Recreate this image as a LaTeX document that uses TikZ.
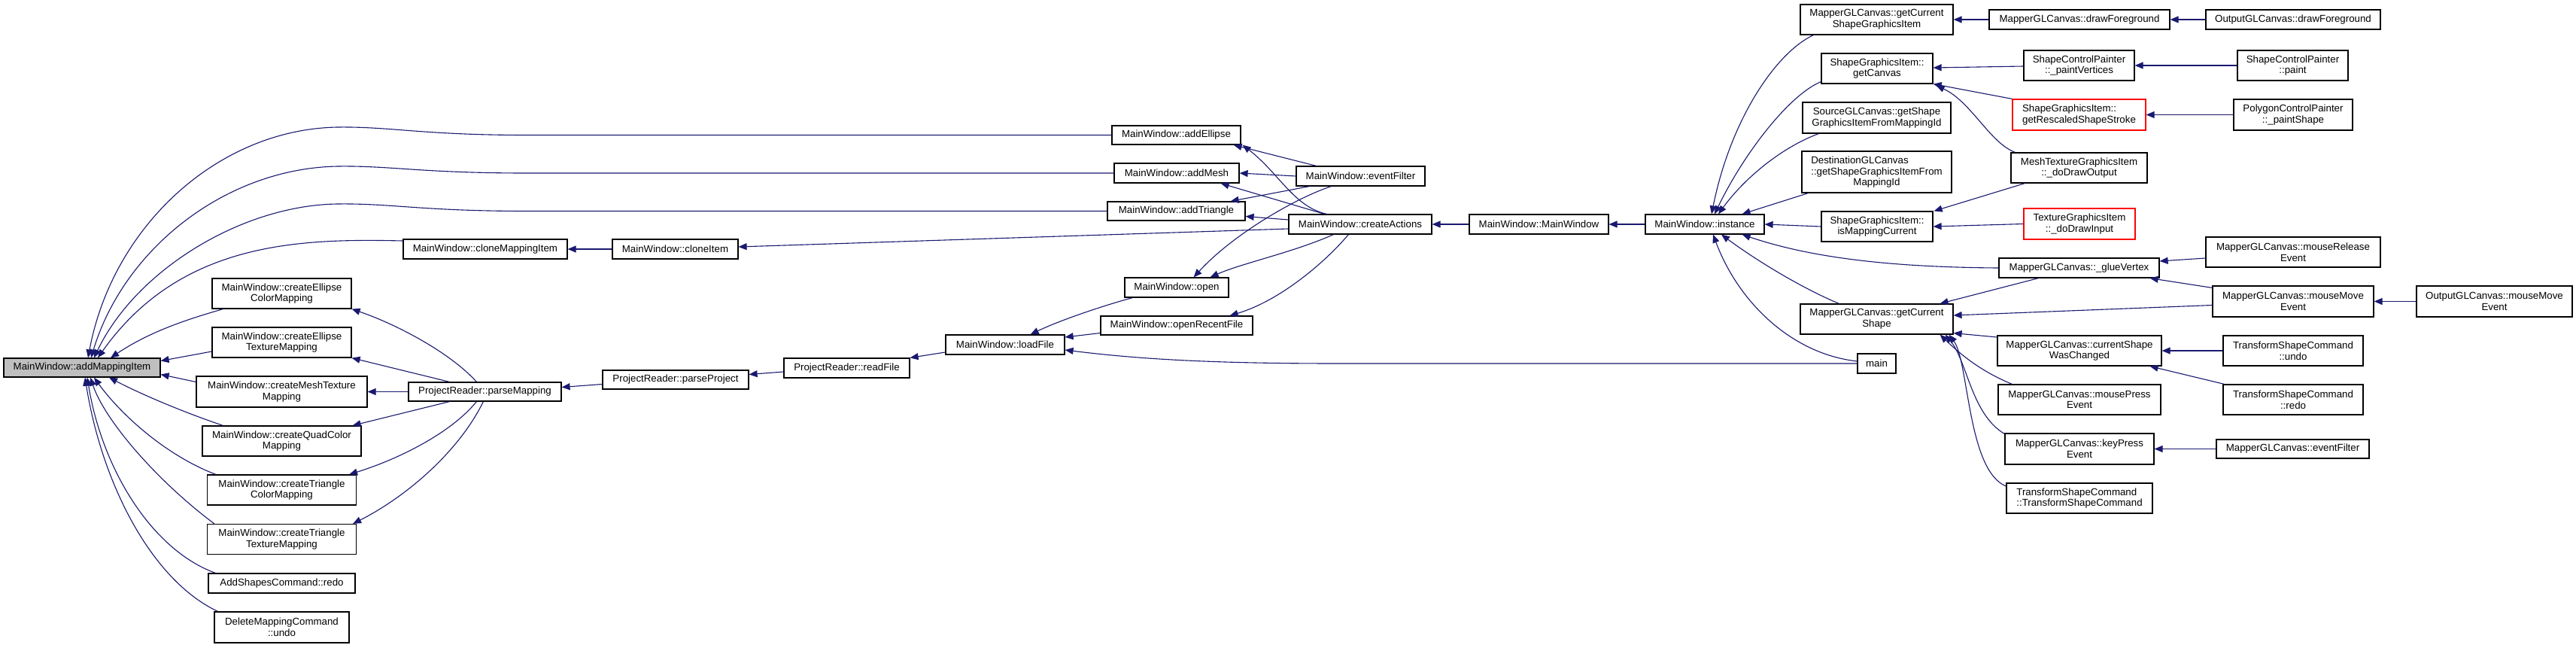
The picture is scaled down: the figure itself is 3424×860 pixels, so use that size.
\documentclass[tikz,border=0pt]{standalone}
\usepackage{fontspec}
\setmainfont{Liberation Sans}
\usetikzlibrary{arrows.meta,calc}
\definecolor{edgecol}{HTML}{191970}
\definecolor{nodegray}{HTML}{BFBFBF}
\newcommand{\dgfont}{\fontsize{13.3}{14.6}\selectfont}
\tikzset{
  box/.style={draw=black, fill=white, line width=1.2pt, inner sep=0pt, align=center, font=\dgfont},
  redbox/.style={draw=red},
  edge/.style={draw=edgecol, line width=1.1pt, -{Triangle[length=11pt,width=9pt]}},
}
\newcommand{\dnode}[6][]{\node[box,#1,minimum width=#4pt,minimum height=#5pt] (#2) at (#3) {#6};}
\begin{document}
\begin{tikzpicture}[x=1pt,y=-1pt]
\path[use as bounding box, fill=white] (0,0) rectangle (3424,860);
% column 0
\dnode[fill=nodegray]{ami}{109,488.5}{208}{25}{MainWindow::addMappingItem}
% column 1
\dnode{cecm}{374.5,390}{185}{40}{MainWindow::createEllipse\\ColorMapping}
\dnode{cetm}{374.5,455}{185}{40}{MainWindow::createEllipse\\TextureMapping}
\dnode{cmtm}{374.5,520.5}{227}{41}{MainWindow::createMeshTexture\\Mapping}
\dnode{cqcm}{374.5,586}{211}{40}{MainWindow::createQuadColor\\Mapping}
\dnode{ctcm}{374.5,651}{198}{40}{MainWindow::createTriangle\\ColorMapping}
\dnode{cttm}{374.5,716.5}{198}{40}{MainWindow::createTriangle\\TextureMapping}
\dnode{ascr}{374.5,775}{195}{26}{AddShapesCommand::redo}
\dnode{dmcu}{374.5,833.5}{179}{41}{DeleteMappingCommand\\::undo}
% column 2-5
\dnode{cmi}{645,331}{218}{26}{MainWindow::cloneMappingItem}
\dnode{pm}{644.5,520.5}{203}{25}{ProjectReader::parseMapping}
\dnode{ci}{897.5,331}{167}{26}{MainWindow::cloneItem}
\dnode{pp}{898,504.5}{194}{25}{ProjectReader::parseProject}
\dnode{rf}{1125.5,489}{167}{26}{ProjectReader::readFile}
\dnode{lf}{1336,458}{158}{26}{MainWindow::loadFile}
% column 6
\dnode{ae}{1563.5,179.5}{171}{25}{MainWindow::addEllipse}
\dnode{am}{1564,230}{166}{26}{MainWindow::addMesh}
\dnode{at}{1563.5,280.5}{183}{25}{MainWindow::addTriangle}
\dnode{op}{1564,382}{138}{26}{MainWindow::open}
\dnode{orf}{1564,432.5}{202}{25}{MainWindow::openRecentFile}
% column 7-9
\dnode{ef}{1808.5,234}{171}{26}{MainWindow::eventFilter}
\dnode{ca}{1808,298}{190}{26}{MainWindow::createActions}
\dnode{mwmw}{2045.5,298}{185}{26}{MainWindow::MainWindow}
\dnode{inst}{2266,298}{158}{26}{MainWindow::instance}
% column 10
\dnode{gcsgi}{2494.5,26}{203}{40}{MapperGLCanvas::getCurrent\\ShapeGraphicsItem}
\dnode{gc}{2495,91}{148}{40}{ShapeGraphicsItem::\\getCanvas}
\dnode{sgc}{2494.5,156.5}{197}{41}{SourceGLCanvas::getShape\\GraphicsItemFromMappingId}
\dnode{dgc}{2494.5,228.5}{199}{55}{\begin{tabular}[b]{@{}l@{}}DestinationGLCanvas\\::getShapeGraphicsItemFrom\end{tabular}\\MappingId}
\dnode{imc}{2495,301}{148}{40}{ShapeGraphicsItem::\\isMappingCurrent}
\dnode{gcs}{2494.5,424}{203}{40}{MapperGLCanvas::getCurrent\\Shape}
\dnode{main}{2494.5,483}{51}{26}{main}
% column 11
\dnode{mdf}{2764,26}{240}{26}{MapperGLCanvas::drawForeground}
\dnode{pv}{2763.5,87}{147}{40}{ShapeControlPainter\\::\_paintVertices}
\dnode[redbox,align=left]{grss}{2763.5,152.5}{177}{41}{ShapeGraphicsItem::\\getRescaledShapeStroke}
\dnode{mdo}{2763.5,223}{181}{40}{MeshTextureGraphicsItem\\::\_doDrawOutput}
\dnode[redbox]{tdi}{2764,297.5}{148}{41}{TextureGraphicsItem\\::\_doDrawInput}
\dnode{gv}{2763.5,356}{213}{26}{MapperGLCanvas::\_glueVertex}
\dnode{cswc}{2764,466}{218}{40}{MapperGLCanvas::currentShape\\WasChanged}
\dnode{mpe}{2764,531}{216}{40}{MapperGLCanvas::mousePress\\Event}
\dnode{kpe}{2764,596.5}{198}{41}{MapperGLCanvas::keyPress\\Event}
\dnode[align=left]{tsc}{2764,662}{194}{40}{TransformShapeCommand\\::TransformShapeCommand}
% column 12-13
\dnode{odf}{3048,26}{232}{26}{OutputGLCanvas::drawForeground}
\dnode{scp}{3047.5,87}{147}{40}{ShapeControlPainter\\::paint}
\dnode{pcp}{3048,152.5}{158}{41}{PolygonControlPainter\\::\_paintShape}
\dnode{mre}{3048,335}{232}{40}{MapperGLCanvas::mouseRelease\\Event}
\dnode{mme}{3048,400.5}{214}{41}{MapperGLCanvas::mouseMove\\Event}
\dnode{tsu}{3048,466}{186}{40}{TransformShapeCommand\\::undo}
\dnode{tsr}{3048,531}{186}{40}{TransformShapeCommand\\::redo}
\dnode{mef}{3047.5,596.5}{203}{25}{MapperGLCanvas::eventFilter}
\dnode{omme}{3315.5,400.5}{207}{41}{OutputGLCanvas::mouseMove\\Event}

% edges into addMappingItem
\draw[edge] (ae.west) -- (700,179.5) .. controls (560,179.5) and (520,168) .. (448,169) .. controls (290,172) and (150,300) .. ($(ami.north)+(8,0)$);
\draw[edge] (am.west) -- (700,230) .. controls (560,230) and (520,220) .. (448,221) .. controls (300,224) and (165,330) .. ($(ami.north)+(12,0)$);
\draw[edge] (at.west) -- (700,280.5) .. controls (560,280.5) and (520,270) .. (448,271) .. controls (320,273) and (180,360) .. ($(ami.north)+(16,0)$);
\draw[edge] ($(cmi.west)+(0,-11)$) .. controls (400,317) and (240,320) .. ($(ami.north)+(21,0)$);
\draw[edge] ($(cecm.south west)+(15,0)$) .. controls (250,424) and (200,440) .. ($(ami.north)+(38,0)$);
\draw[edge] ($(cetm.west)+(0,12)$) -- ($(ami.east)+(0,-9)$);
\draw[edge] ($(cmtm.west)+(0,-13)$) -- ($(ami.east)+(0,9)$);
\draw[edge] ($(cqcm.north west)+(28,0)$) .. controls (245,548) and (190,525) .. ($(ami.south)+(36,0)$);
\draw[edge] ($(ctcm.north west)+(12,0)$) .. controls (220,605) and (160,550) .. ($(ami.south)+(16,0)$);
\draw[edge] ($(cttm.north west)+(10,0)$) .. controls (210,640) and (140,560) .. ($(ami.south)+(11,0)$);
\draw[edge] ($(ascr.north west)+(10,0)$) .. controls (200,730) and (135,620) .. ($(ami.south)+(7,0)$);
\draw[edge] ($(dmcu.north west)+(5,0)$) .. controls (200,770) and (135,640) .. ($(ami.south)+(4,0)$);
% parseMapping
\draw[edge] ($(pm.north west)+(91,0)$) .. controls (600,470) and (530,432) .. (cecm.south east);
\draw[edge] ($(pm.north west)+(55,0)$) -- (cetm.south east);
\draw[edge] (pm.west) -- (cmtm.east);
\draw[edge] ($(pm.south west)+(55,0)$) -- ($(cqcm.north east)+(-12,0)$);
\draw[edge] ($(pm.south west)+(91,0)$) .. controls (600,575) and (530,610) .. ($(ctcm.north east)+(-10,0)$);
\draw[edge] ($(pm.south west)+(100,0)$) .. controls (610,600) and (540,660) .. ($(cttm.north east)+(-5,0)$);
\draw[edge] ($(pp.west)+(0,6)$) -- ($(pm.east)+(0,-6)$);
\draw[edge] ($(rf.west)+(0,5)$) -- ($(pp.east)+(0,-7)$);
\draw[edge] ($(lf.west)+(0,10)$) -- (rf.north east);
\draw[edge] (ci.west) -- (cmi.east);
\draw[edge] ($(ca.west)+(0,6)$) -- ($(ci.east)+(0,-3)$);
% eventFilter / createActions
\draw[edge] ($(ef.north west)+(27,0)$) -- ($(ae.south east)+(-10,0)$);
\draw[edge] ($(ca.north west)+(51,0)$) .. controls (1720,275) and (1700,230) .. ($(ae.south east)+(2,0)$);
\draw[edge] (ef.west) -- (am.east);
\draw[edge] ($(ca.north west)+(48,0)$) -- ($(am.south east)+(-25,0)$);
\draw[edge] ($(ef.south west)+(18,0)$) -- ($(at.north east)+(-20,0)$);
\draw[edge] ($(ca.west)+(0,-6)$) -- ($(at.east)+(0,7)$);
\draw[edge] ($(ef.south west)+(47,0)$) .. controls (1725,262) and (1640,310) .. ($(op.north east)+(-47,0)$);
\draw[edge] ($(ca.south west)+(60,0)$) .. controls (1720,335) and (1650,350) .. ($(op.north east)+(-25,0)$);
\draw[edge] ($(ca.south west)+(80,0)$) .. controls (1760,350) and (1700,400) .. ($(orf.north east)+(-31,0)$);
\draw[edge] (mwmw.west) -- (ca.east);
\draw[edge] (inst.west) -- (mwmw.east);
% loadFile
\draw[edge] ($(op.south west)+(11,0)$) .. controls (1470,405) and (1410,425) .. ($(lf.north east)+(-46,0)$);
\draw[edge] ($(orf.west)+(0,10)$) -- ($(lf.east)+(0,-10)$);
\draw[edge] (main.west) -- (1780,483) .. controls (1620,483) and (1520,478) .. ($(lf.east)+(0,7)$);
% instance
\draw[edge] ($(gcsgi.south west)+(18,0)$) .. controls (2360,70) and (2300,160) .. ($(inst.north)+(9,0)$);
\draw[edge] ($(gc.south west)+(0,-3)$) .. controls (2380,125) and (2320,200) .. ($(inst.north)+(13,0)$);
\draw[edge] ($(sgc.south west)+(22,0)$) .. controls (2370,195) and (2320,235) .. ($(inst.north)+(18,0)$);
\draw[edge] ($(dgc.south west)+(9,0)$) -- ($(inst.north east)+(-30,0)$);
\draw[edge] (imc.west) -- (inst.east);
\draw[edge] ($(gcs.north west)+(52,0)$) .. controls (2400,385) and (2340,350) .. ($(inst.south)+(22,0)$);
\draw[edge] (gv.west) .. controls (2500,355) and (2400,340) .. ($(inst.south east)+(-30,0)$);
\draw[edge] ($(main.west)+(0,-3)$) .. controls (2380,470) and (2310,400) .. ($(inst.south)+(11,0)$);
% column 10 callers
\draw[edge] (mdf.west) -- (gcsgi.east);
\draw[edge] ($(pv.west)+(0,1)$) -- ($(gc.east)+(0,-1)$);
\draw[edge] (grss.north west) -- (gc.south east);
\draw[edge] ($(mdo.north west)+(6,0)$) .. controls (2645,190) and (2620,135) .. ($(gc.south east)+(4,2)$);
\draw[edge] ($(mdo.south west)+(19,0)$) -- ($(imc.north east)+(1,0)$);
\draw[edge] (tdi.west) -- (imc.east);
\draw[edge] ($(gv.south west)+(53,0)$) -- ($(gcs.north east)+(-18,0)$);
\draw[edge] ($(mme.west)+(0,5)$) -- ($(gcs.east)+(0,-5)$);
\draw[edge] ($(cswc.west)+(0,-18)$) -- ($(gcs.south east)+(0,-2)$);
\draw[edge] ($(mpe.north west)+(19,0)$) .. controls (2632,493) and (2605,470) .. ($(gcs.south east)+(-18,0)$);
\draw[edge] ($(kpe.west)+(0,-20)$) .. controls (2620,550) and (2615,480) .. ($(gcs.south east)+(-11,0)$);
\draw[edge] ($(tsc.west)+(0,-16)$) .. controls (2615,625) and (2617,480) .. ($(gcs.south east)+(-6,0)$);
% right columns
\draw[edge] (odf.west) -- (mdf.east);
\draw[edge] (scp.west) -- (pv.east);
\draw[edge] (pcp.west) -- (grss.east);
\draw[edge] ($(mre.west)+(0,8)$) -- ($(gv.east)+(0,-9)$);
\draw[edge] ($(mme.north west)+(0,3)$) -- ($(gv.south east)+(-13,0)$);
\draw[edge] (omme.west) -- (mme.east);
\draw[edge] (tsu.west) -- (cswc.east);
\draw[edge] ($(tsr.north west)+(2,0)$) -- ($(cswc.south east)+(-16,0)$);
\draw[edge] (mef.west) -- (kpe.east);
\end{tikzpicture}
\end{document}
